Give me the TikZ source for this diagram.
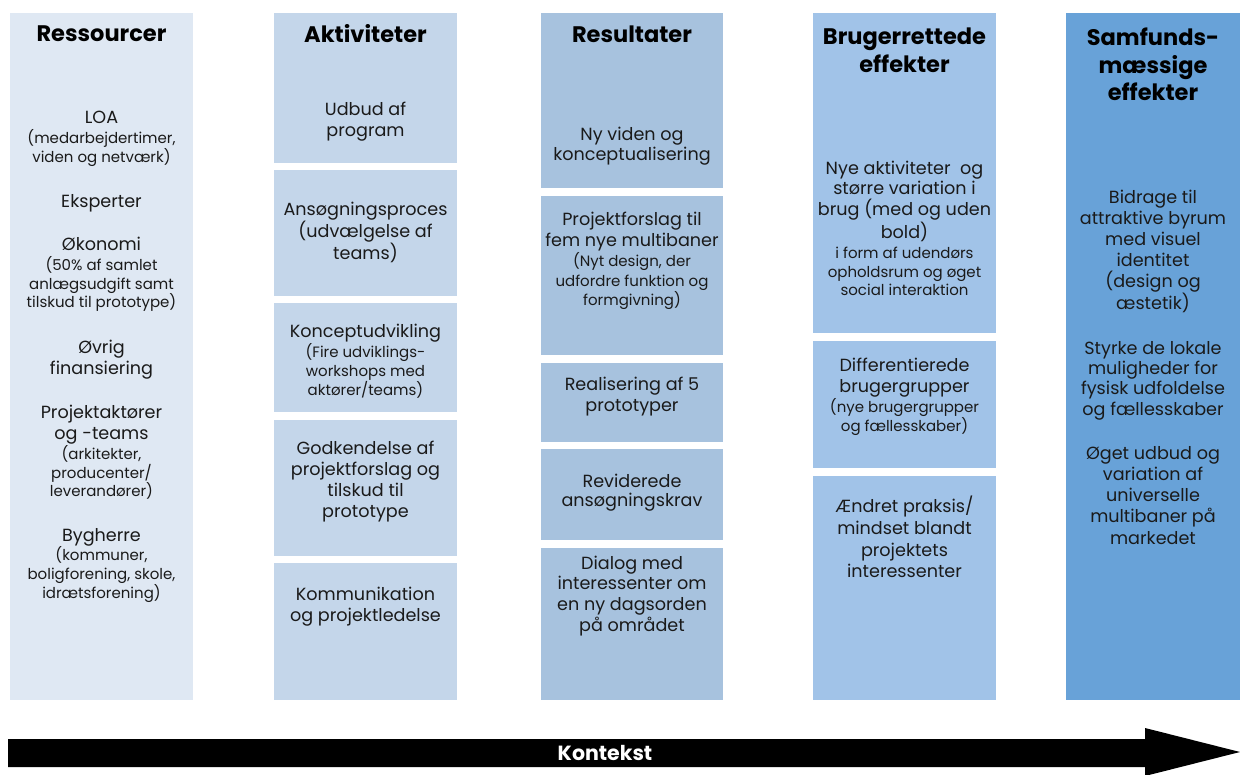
\documentclass[tikz,border=0pt]{standalone}
\usepackage{fontspec}
\setmainfont{Poppins}
\usepackage{tikz}

\definecolor{ressfill}{HTML}{DFE8F3}
\definecolor{aktfill}{HTML}{C4D6EA}
\definecolor{resfill}{HTML}{A7C2DE}
\definecolor{brugfill}{HTML}{A1C3E8}
\definecolor{samffill}{HTML}{68A2D8}
\definecolor{txt}{HTML}{1A1A1A}

\newcommand{\mainsz}{\fontsize{17.6}{21}\selectfont}
\newcommand{\subsz}{\fontsize{15}{19}\selectfont}
\newcommand{\headsz}{\fontsize{22.5}{27.5}\selectfont\bfseries}
\newcommand{\sm}[1]{{\subsz #1}}

\tikzset{
	colbox/.style={inner sep=0pt, anchor=north west, minimum width=183},
	body/.style={align=center, inner sep=0pt, anchor=north, font=\mainsz, text=txt},
	head/.style={align=center, inner sep=0pt, font=\headsz, text=black}
}

\begin{document}
\begin{tikzpicture}[x=1pt, y=-1pt]
			\useasboundingbox (0,0) rectangle (1240,775);
			% kolonner
			\node [colbox, fill=ressfill, minimum height=687] (ress) at (10,13) {};
			\node [colbox, fill=aktfill, minimum height=150] (akt1) at (274,13) {};
			\node [colbox, fill=aktfill, minimum height=126] (akt2) at (274,170) {};
			\node [colbox, fill=aktfill, minimum height=109] (akt3) at (274,303) {};
			\node [colbox, fill=aktfill, minimum height=136] (akt4) at (274,420) {};
			\node [colbox, fill=aktfill, minimum height=137] (akt5) at (274,563) {};
			\node [colbox, fill=resfill, minimum width=182, minimum height=175] (res1) at (541,13) {};
			\node [colbox, fill=resfill, minimum width=182, minimum height=159] (res2) at (541,196) {};
			\node [colbox, fill=resfill, minimum width=182, minimum height=79] (res3) at (541,363) {};
			\node [colbox, fill=resfill, minimum width=182, minimum height=91] (res4) at (541,449) {};
			\node [colbox, fill=resfill, minimum width=182, minimum height=152] (res5) at (541,548) {};
			\node [colbox, fill=brugfill, minimum height=320] (brug1) at (813,13) {};
			\node [colbox, fill=brugfill, minimum height=127] (brug2) at (813,341) {};
			\node [colbox, fill=brugfill, minimum height=224] (brug3) at (813,476) {};
			\node [colbox, fill=samffill, minimum width=174, minimum height=687] (samf) at (1066,13) {};
			% overskrifter
			\node [head] (hress) at (101.5,34) {Ressourcer};
			\node [head] (hakt) at (365.5,34) {Aktiviteter};
			\node [head] (hres) at (632,34) {Resultater};
			\node [head, anchor=north] (hbrug) at (904.5,28) {Brugerrettede\\effekter};
			\node [head, anchor=north] (hsamf) at (1153,28) {Samfunds-\\mæssige\\effekter};
			% ressourcer
			\node [body] (loa) at (101.5,111) {LOA\\[-1.5pt]\sm{(medarbejdertimer,}\\[-2pt]\sm{viden og netværk)}};
			\node [body] (eksp) at (101.5,194) {Eksperter};
			\node [body] (okon) at (101.5,237) {Økonomi\\[-1pt]\sm{(50\% af samlet}\\[-2.5pt]\sm{anlægsudgift samt}\\[-2.5pt]\sm{tilskud til prototype)}};
			\node [body] (ovrig) at (101.5,340) {Øvrig\\finansiering};
			\node [body] (aktor) at (101.5,405) {Projektaktører\\og -teams\\[-1.5pt]\sm{(arkitekter,}\\[-2pt]\sm{producenter/}\\[-2.5pt]\sm{leverandører)}};
			\node [body] (byg) at (101.5,528) {Bygherre\\[-1.5pt]\sm{(kommuner,}\\[-2pt]\sm{boligforening, skole,}\\[-2pt]\sm{idrætsforening)}};
			% aktiviteter
			\node [body] (udbud) at (365.5,102) {Udbud af\\program};
			\node [body] (ansog) at (365.5,202) {Ansøgningsproces\\(udvælgelse af\\teams)};
			\node [body] (konc) at (365.5,324) {Konceptudvikling\\[-1pt]\sm{(Fire udviklings-}\\[-2.5pt]\sm{workshops med}\\[-2pt]\sm{aktører/teams)}};
			\node [body] (godk) at (365.5,441) {Godkendelse af\\projektforslag og\\tilskud til\\prototype};
			\node [body] (komm) at (365.5,587) {Kommunikation\\og projektledelse};
			% resultater
			\node [body] (viden) at (632,127) {Ny viden og\\[-1pt]konceptualisering};
			\node [body] (forslag) at (632,212) {Projektforslag til\\fem nye multibaner\\[-1pt]\sm{(Nyt design, der}\\[-1pt]\sm{udfordre funktion og}\\[-2.5pt]\sm{formgivning)}};
			\node [body] (real) at (632,377) {Realisering af 5\\prototyper};
			\node [body] (revid) at (632,474) {Reviderede\\[-2pt]ansøgningskrav};
			\node [body] (dialog) at (632,556) {Dialog med\\[-1pt]interessenter om\\en ny dagsorden\\på området};
			% brugerrettede effekter
			\node [body] (nye) at (904.5,161) {Nye aktiviteter~ og\\[-1pt]større variation i\\brug (med og uden\\[1pt]bold)\\[-1pt]\sm{i form af udendørs}\\[-2pt]\sm{opholdsrum og øget}\\[-3pt]\sm{social interaktion}};
			\node [body] (diff) at (904.5,358) {Differentierede\\brugergrupper\\[-1pt]\sm{(nye brugergrupper}\\[-2pt]\sm{og fællesskaber)}};
			\node [body] (aendr) at (904.5,496) {Ændret praksis/\\[1pt]mindset blandt\\[1pt]projektets\\interessenter};
			% samfundsmaessige effekter
			\node [body] (bidrage) at (1153,190) {Bidrage til\\attraktive byrum\\med visuel\\identitet\\(design og\\æstetik)};
			\node [body] (styrke) at (1153,341) {Styrke de lokale\\[-1pt]muligheder for\\[-1pt]fysisk udfoldelse\\og fællesskaber};
			\node [body] (oget) at (1153,446) {Øget udbud og\\variation af\\universelle\\multibaner på\\[1pt]markedet};
			% kontekst-pil
			\fill [black] (8,739) -- (1145,739) -- (1145,728) -- (1240,752) -- (1145,776) -- (1145,767) -- (8,767) -- cycle;
			\node [font=\fontsize{20.5}{24}\selectfont\bfseries, text=white, inner sep=0pt] (kontekst) at (605,753) {Kontekst};
		\end{tikzpicture}
\end{document}
